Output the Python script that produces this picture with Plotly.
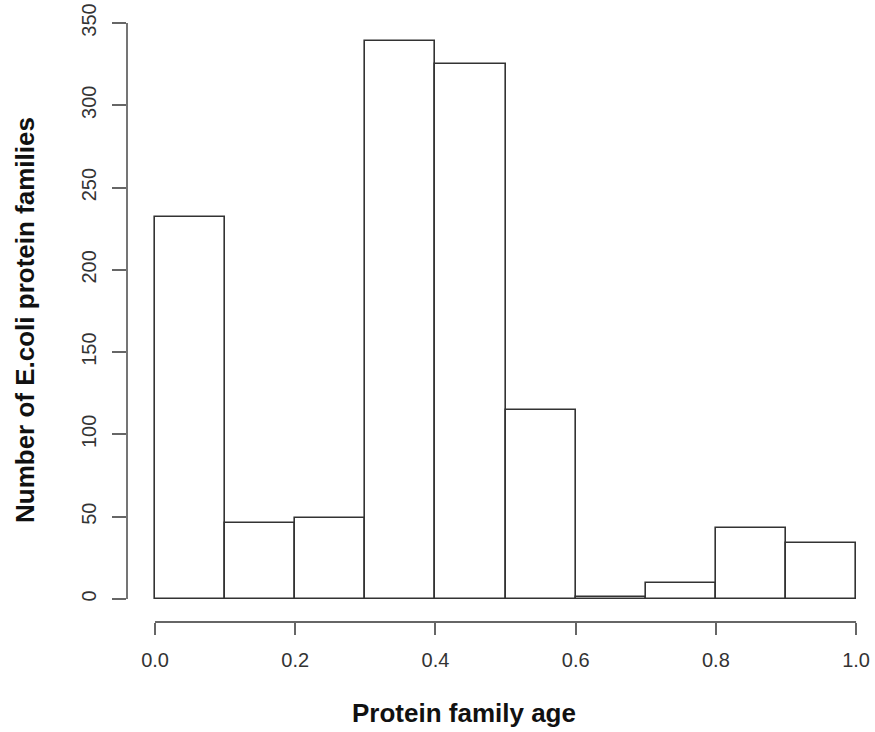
import plotly.graph_objects as go

bin_left = [0.0, 0.1, 0.2, 0.3, 0.4, 0.5, 0.6, 0.7, 0.8, 0.9]
bin_width = 0.1
counts = [232, 46, 49, 339, 325, 115, 1, 10, 43, 34]
x_ticks = [0.0, 0.2, 0.4, 0.6, 0.8, 1.0]
x_tick_labels = ["0.0", "0.2", "0.4", "0.6", "0.8", "1.0"]
y_ticks = [0, 50, 100, 150, 200, 250, 300, 350]
x_title = "Protein family age"
y_title = "Number of E.coli protein families"

centers = [l + bin_width / 2 for l in bin_left]

fig = go.Figure()
fig.add_trace(go.Bar(
    x=centers, y=counts, width=[bin_width] * len(counts),
    marker=dict(color="white", line=dict(color="#333333", width=1.6)),
    showlegend=False, hoverinfo="skip",
))

axis_col = "#666666"
font_tick = dict(family="Liberation Sans, Arial, sans-serif", size=20, color="#333333")
font_title = dict(family="Liberation Sans, Arial, sans-serif", size=26, color="#111111")

fig.update_layout(
    width=875, height=732,
    margin=dict(l=127, r=0, t=0, b=110),
    plot_bgcolor="white", paper_bgcolor="white",
    bargap=0,
    xaxis=dict(
        range=[-0.04, 1.027], showgrid=False, zeroline=False, showline=False,
        tickvals=x_ticks, ticktext=x_tick_labels, ticks="outside", ticklen=12,
        tickwidth=1.6, tickcolor=axis_col, tickfont=font_tick, ticklabelstandoff=8,
    ),
    yaxis=dict(
        range=[-14, 364], showgrid=False, zeroline=False, showline=False,
        tickvals=y_ticks, ticks="outside", ticklen=14, tickwidth=1.6,
        tickcolor=axis_col, tickfont=font_tick, tickangle=-90, ticklabelstandoff=8,
    ),
)

fig.add_annotation(text="<b>%s</b>" % x_title, xref="paper", yref="paper", x=0.4505, y=0,
                   xanchor="center", yanchor="middle", yshift=-91, showarrow=False, font=font_title)
fig.add_annotation(text="<b>%s</b>" % y_title, xref="paper", yref="paper", x=0, y=0.4855,
                   xanchor="center", yanchor="middle", xshift=-102, textangle=-90,
                   showarrow=False, font=font_title)

# R-style detached axis lines spanning first to last tick
fig.add_shape(type="line", xref="x", yref="paper", x0=x_ticks[0], x1=x_ticks[-1], y0=0, y1=0,
              line=dict(color=axis_col, width=1.8))
fig.add_shape(type="line", xref="paper", yref="y", x0=0, x1=0, y0=y_ticks[0], y1=y_ticks[-1],
              line=dict(color=axis_col, width=1.8))

fig.write_html("out.html")
